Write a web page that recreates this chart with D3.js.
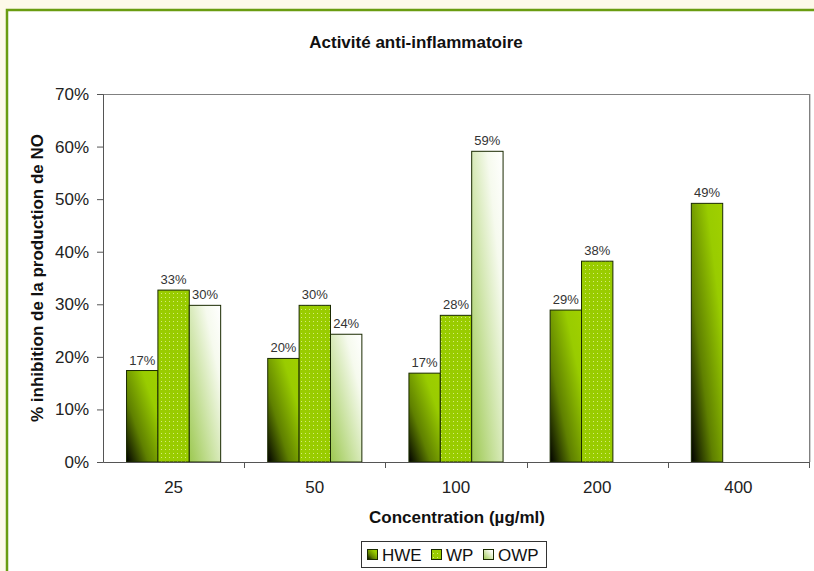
<!DOCTYPE html>
<html><head><meta charset="utf-8">
<script src="https://cdn.jsdelivr.net/npm/d3@7"></script>
<style>body{margin:0;background:#fdf9e9;}svg{display:block;font-family:"Liberation Sans",Arial,sans-serif;}</style>
</head><body>
<svg id="c" width="814" height="571"></svg>
<script>
const categories = ["25","50","100","200","400"];
const seriesNames = ["HWE","WP","OWP"];
const hweValues = [0.174, 0.197, 0.169, 0.289, 0.492];
const wpValues  = [0.327, 0.298, 0.279, 0.382, null];
const owpValues = [0.298, 0.243, 0.591, null, null];
const yTicks = [0,0.1,0.2,0.3,0.4,0.5,0.6,0.7];
const title = "Activité anti-inflammatoire";
const xTitle = "Concentration (µg/ml)";
const yTitle = "% inhibition de la production de NO";

const svg = d3.select("#c");
const defs = svg.append("defs");
const g1 = defs.append("linearGradient").attr("id","gHWE").attr("x1",0).attr("y1",1).attr("x2",1).attr("y2",0);
g1.append("stop").attr("offset",0).attr("stop-color","#000000");
g1.append("stop").attr("offset",0.35).attr("stop-color","#5f8000");
g1.append("stop").attr("offset",0.75).attr("stop-color","#99cc00");
g1.append("stop").attr("offset",1).attr("stop-color","#a0d000");
const g3 = defs.append("linearGradient").attr("id","gOWP").attr("x1",0).attr("y1",1).attr("x2",1).attr("y2",0);
g3.append("stop").attr("offset",0).attr("stop-color","#9cc850");
g3.append("stop").attr("offset",0.35).attr("stop-color","#c6e09a");
g3.append("stop").attr("offset",0.75).attr("stop-color","#f6faee");
g3.append("stop").attr("offset",1).attr("stop-color","#ffffff");
const pat = defs.append("pattern").attr("id","pWP").attr("patternUnits","userSpaceOnUse").attr("width",4).attr("height",4);
pat.append("rect").attr("width",4).attr("height",4).attr("fill","#99cc00");
pat.append("rect").attr("x",1).attr("y",1).attr("width",1).attr("height",1).attr("fill","#d4ec7a");
const fills = ["url(#gHWE)","url(#pWP)","url(#gOWP)"];

svg.append("rect").attr("x",7).attr("y",10).attr("width",820).attr("height",580)
  .attr("fill","#ffffff").attr("stroke","#6a9c10").attr("stroke-width",2.5);

const L=103, R=809, T=94, B=462;
const x = d3.scaleBand().domain(categories).range([L,R]).paddingInner(0).paddingOuter(0);
const xs = d3.scaleBand().domain(seriesNames).range([0,x.bandwidth()]).paddingInner(0).paddingOuter(0.75);
const y = d3.scaleLinear().domain([0,0.7]).range([B,T]);

svg.append("line").attr("x1",L).attr("x2",R).attr("y1",T+0.5).attr("y2",T+0.5).attr("stroke","#808080");
svg.append("line").attr("x1",R+0.5).attr("x2",R+0.5).attr("y1",T).attr("y2",B).attr("stroke","#808080");
svg.append("line").attr("x1",R+1.5).attr("x2",R+1.5).attr("y1",T).attr("y2",B).attr("stroke","#d0d0d0");

const data = [];
categories.forEach((c,i)=>{
  [hweValues,wpValues,owpValues].forEach((arr,s)=>{
    if(arr[i]!=null) data.push({c, s, v:arr[i]});
  });
});
const fmt = d3.format(".0%");
const bars = svg.append("g");
bars.selectAll("rect").data(data).join("rect")
  .attr("x",d=>x(d.c)+xs(seriesNames[d.s]))
  .attr("y",d=>y(d.v))
  .attr("width",xs.bandwidth())
  .attr("height",d=>B-y(d.v))
  .attr("fill",d=>fills[d.s])
  .attr("stroke","#1a2a00").attr("stroke-width",1);
bars.selectAll("text").data(data).join("text")
  .attr("x",d=>x(d.c)+xs(seriesNames[d.s])+xs.bandwidth()/2)
  .attr("y",d=>y(d.v)-6)
  .attr("text-anchor","middle").attr("font-size",13).attr("fill","#333")
  .text(d=>fmt(d.v));

const ya = svg.append("g").attr("transform",`translate(${L},0)`)
  .call(d3.axisLeft(y).tickValues(yTicks).tickFormat(d3.format(".0%")).tickSize(6).tickPadding(8));
ya.select(".domain").attr("stroke","#555");
ya.selectAll(".tick line").attr("stroke","#555");
ya.selectAll("text").attr("font-size",17).attr("fill","#222").attr("font-family","Liberation Sans, Arial, sans-serif");

const xa = svg.append("g").attr("transform",`translate(0,${B})`)
  .call(d3.axisBottom(x).tickSize(0).tickPadding(19));
xa.select(".domain").attr("stroke","#555");
xa.selectAll("text").attr("font-size",17).attr("fill","#222").attr("font-family","Liberation Sans, Arial, sans-serif");
const bounds = categories.map(c=>x(c)+x.bandwidth());
svg.append("g").selectAll("line").data(bounds).join("line")
  .attr("x1",d=>Math.round(d)+0.5).attr("x2",d=>Math.round(d)+0.5).attr("y1",B).attr("y2",B+6).attr("stroke","#555");

svg.append("text").attr("x",416).attr("y",48).attr("text-anchor","middle")
  .attr("font-size",17).attr("font-weight","bold").attr("fill","#111").text(title);
svg.append("text").attr("x",457).attr("y",523).attr("text-anchor","middle")
  .attr("font-size",17).attr("font-weight","bold").attr("fill","#111").text(xTitle);
svg.append("text").attr("transform",`translate(43,${(T+B)/2}) rotate(-90)`).attr("text-anchor","middle")
  .attr("font-size",17).attr("font-weight","bold").attr("fill","#111").text(yTitle);

const lg = svg.append("g");
lg.append("rect").attr("x",361.5).attr("y",541.5).attr("width",185).attr("height",26)
  .attr("fill","#fff").attr("stroke","#333");
const lx = [367,431,483];
seriesNames.forEach((n,i)=>{
  lg.append("rect").attr("x",lx[i]+0.5).attr("y",549.5).attr("width",10).attr("height",10)
    .attr("fill",fills[i]).attr("stroke","#1a2a00");
  lg.append("text").attr("x",lx[i]+15).attr("y",561).attr("font-size",17).attr("fill","#111").text(n);
});
</script>
</body></html>
